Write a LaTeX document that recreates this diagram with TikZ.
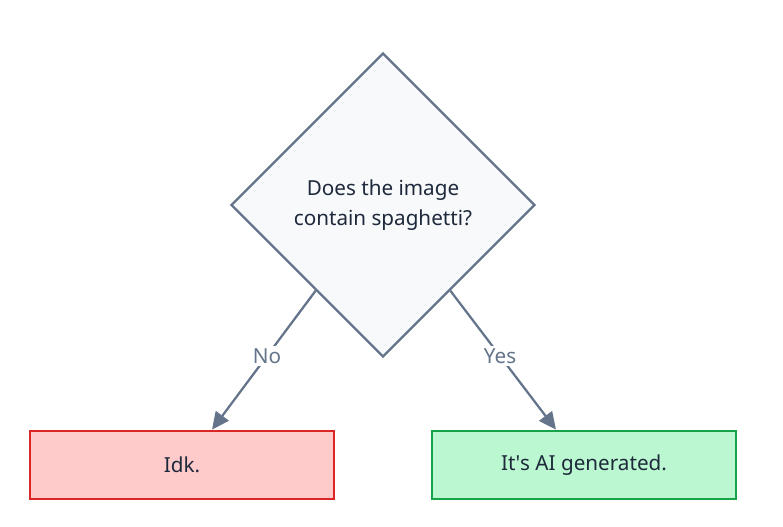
\documentclass[tikz,border=0pt]{standalone}
\usepackage{fontspec}
\setmainfont{Noto Sans}
\usetikzlibrary{arrows.meta,positioning,calc,shapes.geometric}
\definecolor{slate}{HTML}{64748B}
\definecolor{ink}{HTML}{1E293B}
\definecolor{paper}{HTML}{F8F9FB}
\definecolor{nored}{HTML}{DC2626}
\definecolor{nofill}{HTML}{FECACA}
\definecolor{yesgreen}{HTML}{16A34A}
\definecolor{yesfill}{HTML}{BBF7D0}

\begin{document}
\begin{tikzpicture}[
  x=0.75pt,y=-0.75pt,
  font=\fontsize{15.5}{22.5}\selectfont,
  question/.style={
    draw=slate,
    diamond,
    aspect=1,
    line width=1.7pt,
    align=center,
    inner sep=0pt,
    minimum width=228pt,
    minimum height=228pt,
    text=ink,
    fill=paper
  },
  answer/.style={
    rounded corners=0pt,
    line width=2pt,
    align=center,
    minimum width=228pt,
    minimum height=51pt,
    text=ink
  },
  arrow/.style={-{Triangle[length=13pt,width=12pt]},line width=1.7pt,draw=slate},
  edgelabel/.style={fill=white,text=slate,inner sep=2pt}
]
\useasboundingbox (0,0) rectangle (783,527);

% Decision
\node[question] (q) at (383,205) {Does the image\\contain spaghetti?};

% Outcomes
\node[answer,draw=nored,fill=nofill] (idk) at (182,465) {Idk.};
\node[answer,draw=yesgreen,fill=yesfill] (ai) at (584,465) {It\textquotesingle s AI generated.};

% Connections
\draw[arrow] ($(q.west)!0.56!(q.south)$) -- node[edgelabel,pos=0.47] {No} ($(idk.north)+(30,0)$);
\draw[arrow] ($(q.east)!0.56!(q.south)$) -- node[edgelabel,pos=0.47] {Yes} ($(ai.north)+(-28,0)$);

\end{tikzpicture}
\end{document}
